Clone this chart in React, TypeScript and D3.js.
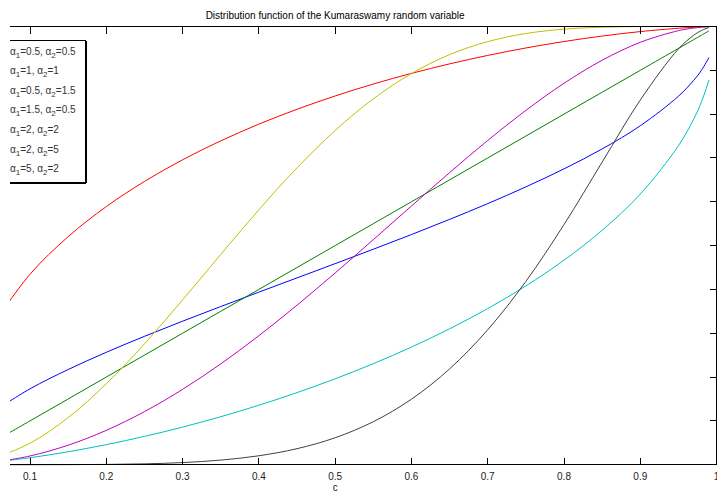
import React from "react";
import * as d3 from "d3";

const xs = [0.05, 0.1, 0.15, 0.2, 0.25, 0.3, 0.35, 0.4, 0.45, 0.5, 0.55, 0.6, 0.65, 0.7, 0.75, 0.8, 0.85, 0.9, 0.95, 0.97, 0.98, 0.99];

const blueVals = [0.1189, 0.1731, 0.2172, 0.2565, 0.2929, 0.3275, 0.3609, 0.3938, 0.4263, 0.4588, 0.4917, 0.5252, 0.5598, 0.5958, 0.634, 0.6751, 0.7206, 0.7735, 0.8409, 0.8771, 0.8997, 0.9292];
const greenVals = [0.05, 0.1, 0.15, 0.2, 0.25, 0.3, 0.35, 0.4, 0.45, 0.5, 0.55, 0.6, 0.65, 0.7, 0.75, 0.8, 0.85, 0.9, 0.95, 0.97, 0.98, 0.99];
const redVals = [0.3159, 0.4346, 0.5204, 0.589, 0.6464, 0.6958, 0.739, 0.7772, 0.8111, 0.8415, 0.8687, 0.893, 0.9147, 0.934, 0.951, 0.9657, 0.9782, 0.9884, 0.996, 0.9981, 0.999, 0.9996];
const cyanVals = [0.0056, 0.0159, 0.0295, 0.0458, 0.0646, 0.0858, 0.1095, 0.1357, 0.1645, 0.196, 0.2305, 0.2684, 0.3101, 0.3563, 0.408, 0.4667, 0.5349, 0.6177, 0.7279, 0.7887, 0.8272, 0.8777];
const magentaVals = [0.005, 0.0199, 0.0445, 0.0784, 0.1211, 0.1719, 0.23, 0.2944, 0.364, 0.4375, 0.5135, 0.5904, 0.6665, 0.7399, 0.8086, 0.8704, 0.923, 0.9639, 0.9905, 0.9965, 0.9984, 0.9996];
const yellowVals = [0.0124, 0.049, 0.1075, 0.1846, 0.2758, 0.376, 0.4797, 0.5818, 0.6774, 0.7627, 0.8349, 0.8926, 0.9358, 0.9655, 0.984, 0.994, 0.9984, 0.9998, 1.0, 1.0, 1.0, 1.0];
const blackVals = [0.0, 0.00002, 0.00015, 0.00064, 0.00195, 0.00485, 0.01048, 0.02038, 0.03657, 0.0615, 0.0981, 0.1495, 0.2186, 0.3079, 0.4183, 0.548, 0.6905, 0.8323, 0.9488, 0.98, 0.9908, 0.9976];

const seriesNames = [
  ["0.5", "0.5"],
  ["1", "1"],
  ["0.5", "1.5"],
  ["1.5", "0.5"],
  ["2", "2"],
  ["2", "5"],
  ["5", "2"],
];
const seriesValues = [blueVals, greenVals, redVals, cyanVals, magentaVals, yellowVals, blackVals];
const seriesColors = ["#0000ff", "#008000", "#ff0000", "#00bfbf", "#bf00bf", "#bfbf00", "#404040"];

const xTicks = [0.1, 0.2, 0.3, 0.4, 0.5, 0.6, 0.7, 0.8, 0.9, 1];
const xTickLabels = ["0.1", "0.2", "0.3", "0.4", "0.5", "0.6", "0.7", "0.8", "0.9", "1"];
const yTicks = [0, 0.1, 0.2, 0.3, 0.4, 0.5, 0.6, 0.7, 0.8, 0.9, 1];

const title = "Distribution function of the Kumaraswamy random variable";
const xLabel = "c";

export default function App() {
  const W = 717, H = 493;
  const x = d3.scaleLinear().domain([0.1, 0.9]).range([30, 640.3]);
  const y = d3.scaleLinear().domain([0, 1]).range([464.7, 26.5]);
  const clipLeft = 10;
  const xRight = x(1);
  const font = "'Liberation Sans', Arial, Helvetica, sans-serif";

  const line = d3
    .line<number>()
    .x((_, i) => x(xs[i]))
    .y((d) => y(d))
    .curve(d3.curveCatmullRom.alpha(0.5));

  const legendRowY = (i: number) => 54.5 + i * 19.6;

  return (
    <svg width={W} height={H} style={{ position: "absolute", left: 0, top: 0, background: "#fff" }} fontFamily={font}>
      <defs>
        <clipPath id="vis">
          <rect x={clipLeft} y={0} width={W - clipLeft} height={H} />
        </clipPath>
        <clipPath id="plot">
          <rect x={clipLeft} y={y(1) - 2} width={xRight - clipLeft} height={y(0) - y(1) + 4} />
        </clipPath>
      </defs>
      <rect x={0} y={0} width={W} height={H} fill="#fff" />
      <text x={x(0.5)} y={19} fontSize={10} textAnchor="middle" fill="#000">{title}</text>

      <g clipPath="url(#plot)">
        {seriesValues.map((vals, i) => (
          <path key={i} d={line(vals) || ""} fill="none" stroke={seriesColors[i]} strokeWidth={1} />
        ))}
      </g>

      <g clipPath="url(#vis)" stroke="#000" strokeWidth={1} fill="none" shapeRendering="crispEdges">
        <line x1={clipLeft} x2={xRight} y1={y(0)} y2={y(0)} />
        <line x1={clipLeft} x2={xRight} y1={y(1)} y2={y(1)} />
        <line x1={xRight} x2={xRight} y1={y(1)} y2={y(0)} />
        {xTicks.map((t) => (
          <g key={"xt" + t}>
            <line x1={x(t)} x2={x(t)} y1={y(0)} y2={y(0) - 7} />
            <line x1={x(t)} x2={x(t)} y1={y(1)} y2={y(1) + 7} />
          </g>
        ))}
        {yTicks.map((t) => (
          <line key={"yt" + t} x1={xRight} x2={xRight - 7} y1={y(t)} y2={y(t)} />
        ))}
      </g>

      {xTicks.map((t, i) => (
        <text key={"xl" + t} x={x(t)} y={479.5} fontSize={10} textAnchor="middle" fill="#222">{xTickLabels[i]}</text>
      ))}
      <text x={x(0.5)} y={491} fontSize={10} textAnchor="middle" fill="#222">{xLabel}</text>

      <g clipPath="url(#vis)">
        <rect x={-20} y={40} width={105} height={142} fill="#fff" stroke="#000" strokeWidth={1} shapeRendering="crispEdges" />
        <line x1={86} x2={86} y1={41} y2={183} stroke="#000" strokeWidth={1} shapeRendering="crispEdges" />
        <line x1={-20} x2={86} y1={183} y2={183} stroke="#000" strokeWidth={1} shapeRendering="crispEdges" />
        {seriesNames.map((p, i) => (
          <text key={"lg" + i} x={10} y={legendRowY(i)} fontSize={10} fill="#333">
            α<tspan dy={3} fontSize={8}>1</tspan>
            <tspan dy={-3}>={p[0]}, α</tspan>
            <tspan dy={3} fontSize={8}>2</tspan>
            <tspan dy={-3}>={p[1]}</tspan>
          </text>
        ))}
      </g>
    </svg>
  );
}
